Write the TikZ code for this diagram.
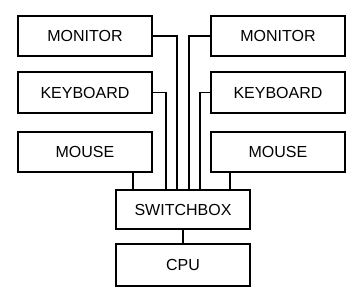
\documentclass[tikz,border=0pt]{standalone}
\usepackage{fontspec}
\setmainfont{Liberation Sans}
\begin{document}
\begin{tikzpicture}[x=1pt,y=-1pt,
  box/.style={draw,line width=1.2pt,minimum width=134pt,inner sep=0pt,font=\fontsize{16}{19}\selectfont},
  wire/.style={line width=1.1pt}]
\useasboundingbox (0,0) rectangle (354,300);
\node[box,minimum height=40pt] (lmon) at (85,36) {MONITOR};
\node[box,minimum height=41pt] (lkey) at (85,92.5) {KEYBOARD};
\node[box,minimum height=40pt] (lmou) at (85,152) {MOUSE};
\node[box,minimum height=40pt] (rmon) at (278,36) {MONITOR};
\node[box,minimum height=41pt] (rkey) at (278,92.5) {KEYBOARD};
\node[box,minimum height=40pt] (rmou) at (278,152) {MOUSE};
\node[box,minimum height=39pt] (sw) at (183,209.5) {SWITCHBOX};
\node[box,minimum height=42pt] (cpu) at (183,265) {CPU};
\coordinate (x1) at (177,0);
\coordinate (x2) at (166,0);
\coordinate (x3) at (189,0);
\coordinate (x4) at (200,0);
\coordinate (x5) at (133,0);
\coordinate (x6) at (230,0);
\draw[wire] (lmon.east) -| (x1 |- sw.north);
\draw[wire] (lkey.east) -| (x2 |- sw.north);
\draw[wire] (rmon.west) -| (x3 |- sw.north);
\draw[wire] (rkey.west) -| (x4 |- sw.north);
\draw[wire] (x5 |- lmou.south) -- (x5 |- sw.north);
\draw[wire] (x6 |- rmou.south) -- (x6 |- sw.north);
\draw[wire] (sw.south) -- (cpu.north);
\end{tikzpicture}
\end{document}
